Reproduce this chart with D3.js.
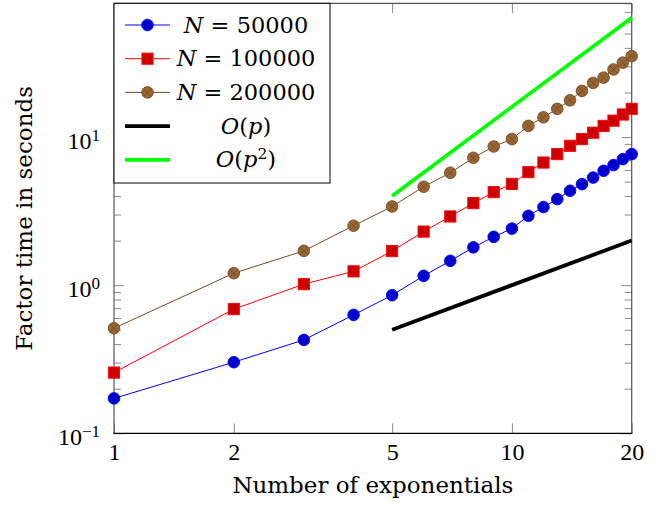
<!DOCTYPE html>
<html>
<head>
<meta charset="utf-8">
<script src="https://cdn.jsdelivr.net/npm/d3@7"></script>
<style>
  html, body { margin: 0; padding: 0; background: #fff; }
  svg { display: block; }
  text { font-family: "DejaVu Serif", "Liberation Serif", serif; fill: #000; }
  .num { font-family: "Liberation Serif", "DejaVu Serif", serif; }
</style>
</head>
<body>
<svg id="chart" width="661" height="508"></svg>
<script>
// ---- data ----
const exponentials = [1,2,3,4,5,6,7,8,9,10,11,12,13,14,15,16,17,18,19,20];
const timesN50000  = [0.172,0.302,0.427,0.63,0.856,1.156,1.46,1.80,2.12,2.41,2.94,3.37,3.81,4.34,4.81,5.33,5.92,6.47,7.10,7.67];
const timesN100000 = [0.257,0.689,1.016,1.24,1.70,2.30,2.91,3.58,4.25,4.83,5.80,6.73,7.67,8.73,9.69,10.7,11.9,12.9,14.2,15.5];
const timesN200000 = [0.512,1.205,1.705,2.52,3.40,4.62,5.74,7.25,8.64,9.69,11.9,13.6,15.5,17.7,20.5,23.2,25.2,28.6,31.8,35.2];
const refLinearX = [5, 20];
const refLinearY = [0.5, 2];
const refQuadX = [5, 20];
const refQuadY = [4, 64];
const xTickValues = [1, 2, 5, 10, 20];
const xTickLabels = ["1", "2", "5", "10", "20"];
const yMajorTicks = [0.1, 1, 10];
const yTickExponents = ["\u22121", "0", "1"];
const legendLabels = ["50000", "100000", "200000"];

// ---- layout ----
const L = 114, R = 631.7, T = 3.3, B = 433.3;
const FS = "22.5px", FSS = "15.5px", FA = "23px";
const svg = d3.select("#chart");
const x = d3.scaleLog().domain([1, 20]).range([L, R]);
const y = d3.scaleLog().domain([0.1, 80]).range([B, T]);

const yMinorTicks = [];
[0.1, 1, 10].forEach(d => { for (let k = 2; k <= 9; k++) { const v = d * k; if (v <= 80) yMinorTicks.push(v); } });

const tickCol = "#8a8a8a";
const axesG = svg.append("g");

// bottom axis
const xb = axesG.append("g").attr("transform", `translate(0,${B})`)
  .call(d3.axisBottom(x).tickValues(xTickValues).tickSizeInner(-10).tickSizeOuter(0).tickPadding(10)
        .tickFormat((d, i) => xTickLabels[i]));
xb.select(".domain").remove();
xb.selectAll("line").attr("stroke", tickCol);
xb.selectAll("text").attr("class", "num").style("font-size", "24px").attr("font-family", null);

// top axis ticks
const xt = axesG.append("g").attr("transform", `translate(0,${T})`)
  .call(d3.axisTop(x).tickValues(xTickValues).tickSizeInner(-10).tickSizeOuter(0).tickFormat(""));
xt.select(".domain").remove();
xt.selectAll("line").attr("stroke", tickCol);

// left axis major
const yl = axesG.append("g").attr("transform", `translate(${L},0)`)
  .call(d3.axisLeft(y).tickValues(yMajorTicks).tickSizeInner(-10).tickSizeOuter(0).tickFormat(""));
yl.select(".domain").remove();
yl.selectAll("line").attr("stroke", tickCol);
yl.selectAll(".tick text").remove();
yl.selectAll(".tick").each(function(d, i) {
  const g = d3.select(this);
  const t = g.append("text").attr("class", "num").attr("x", 0).attr("y", 11)
    .attr("text-anchor", "start").style("font-size", "24px").attr("fill", "#000");
  t.append("tspan").text("10");
  t.append("tspan").attr("dy", -8).style("font-size", "17px").text(yTickExponents[i]);
  const w = t.node().getBBox().width;
  t.attr("x", -14 - w);
});
// left minor
const ylm = axesG.append("g").attr("transform", `translate(${L},0)`)
  .call(d3.axisLeft(y).tickValues(yMinorTicks).tickSizeInner(-7).tickSizeOuter(0).tickFormat(""));
ylm.select(".domain").remove();
ylm.selectAll("line").attr("stroke", tickCol);
// right major/minor
const yr = axesG.append("g").attr("transform", `translate(${R},0)`)
  .call(d3.axisRight(y).tickValues(yMajorTicks).tickSizeInner(-10).tickSizeOuter(0).tickFormat(""));
yr.select(".domain").remove();
yr.selectAll("line").attr("stroke", tickCol);
const yrm = axesG.append("g").attr("transform", `translate(${R},0)`)
  .call(d3.axisRight(y).tickValues(yMinorTicks).tickSizeInner(-7).tickSizeOuter(0).tickFormat(""));
yrm.select(".domain").remove();
yrm.selectAll("line").attr("stroke", tickCol);

// frame
axesG.append("line").attr("x1", L).attr("x2", L).attr("y1", T).attr("y2", B).attr("stroke", "#555").attr("stroke-width", 1.2);
axesG.append("line").attr("x1", R).attr("x2", R).attr("y1", T).attr("y2", B).attr("stroke", "#555").attr("stroke-width", 1.2);
axesG.append("line").attr("x1", L).attr("x2", R).attr("y1", T).attr("y2", T).attr("stroke", "#555").attr("stroke-width", 1.2);
axesG.append("line").attr("x1", L - 0.6).attr("x2", R + 0.6).attr("y1", B).attr("y2", B).attr("stroke", "#000").attr("stroke-width", 1.2);

// axis labels
svg.append("text").attr("x", (L + R) / 2).attr("y", 493).attr("text-anchor", "middle")
  .style("font-size", FA).text("Number of exponentials");
svg.append("text").attr("transform", `translate(32,${(T + B) / 2}) rotate(-90)`).attr("text-anchor", "middle")
  .style("font-size", FA).text("Factor time in seconds");

// ---- series ----
const series = [
  { vals: timesN50000,  line: "rgb(0,0,255)",   fill: "rgb(0,0,204)",   mark: "circle" },
  { vals: timesN100000, line: "rgb(255,0,0)",   fill: "rgb(204,0,0)",   mark: "square" },
  { vals: timesN200000, line: "rgb(115,77,38)", fill: "rgb(153,102,51)", mark: "otimes" }
];
const lineGen = d3.line().x(d => x(d[0])).y(d => y(d[1]));

function drawMark(g, type, cx, cy, s) {
  if (type === "circle") {
    g.append("circle").attr("cx", cx).attr("cy", cy).attr("r", 5.8).attr("fill", s.fill).attr("stroke", s.line).attr("stroke-width", 0.9);
  } else if (type === "square") {
    g.append("rect").attr("x", cx - 5.6).attr("y", cy - 5.6).attr("width", 11.2).attr("height", 11.2).attr("fill", s.fill).attr("stroke", s.line).attr("stroke-width", 0.9);
  } else {
    g.append("circle").attr("cx", cx).attr("cy", cy).attr("r", 5.8).attr("fill", s.fill).attr("stroke", s.line).attr("stroke-width", 0.9);
    const k = 5.8 * Math.SQRT1_2;
    g.append("path").attr("d", `M${cx - k},${cy - k}L${cx + k},${cy + k}M${cx - k},${cy + k}L${cx + k},${cy - k}`)
      .attr("stroke", s.line).attr("stroke-width", 0.9).attr("fill", "none");
  }
}

const plotG = svg.append("g");
series.forEach(s => {
  const pts = exponentials.map((e, i) => [e, s.vals[i]]);
  const g = plotG.append("g");
  g.append("path").datum(pts).attr("d", lineGen).attr("fill", "none").attr("stroke", s.line).attr("stroke-width", 1);
  pts.forEach(p => drawMark(g, s.mark, x(p[0]), y(p[1]), s));
});
plotG.append("path").datum(refLinearX.map((v, i) => [v, refLinearY[i]])).attr("d", lineGen)
  .attr("fill", "none").attr("stroke", "#000").attr("stroke-width", 3.8);
plotG.append("path").datum(refQuadX.map((v, i) => [v, refQuadY[i]])).attr("d", lineGen)
  .attr("fill", "none").attr("stroke", "rgb(0,255,0)").attr("stroke-width", 3.8);

// ---- legend ----
const lg = svg.append("g");
lg.append("rect").attr("x", L).attr("y", T).attr("width", 330 - L).attr("height", 183 - T)
  .attr("fill", "#fff").attr("stroke", "#000").attr("stroke-width", 1);
const rowY = i => 25 + i * 33.7;
series.forEach((s, i) => {
  const cy = rowY(i);
  lg.append("line").attr("x1", 125).attr("x2", 170).attr("y1", cy).attr("y2", cy).attr("stroke", s.line).attr("stroke-width", 1);
  drawMark(lg, s.mark, 147.5, cy, s);
  const t = lg.append("text").attr("x", 246).attr("y", cy + 7.5).attr("text-anchor", "middle").style("font-size", FS);
  t.append("tspan").style("font-style", "italic").text("N");
  t.append("tspan").text(" = " + legendLabels[i]);
});
[["#000", "p", null], ["rgb(0,255,0)", "p", "2"]].forEach((r, j) => {
  const cy = rowY(3 + j);
  lg.append("line").attr("x1", 125).attr("x2", 170).attr("y1", cy).attr("y2", cy).attr("stroke", r[0]).attr("stroke-width", 3.8);
  const t = lg.append("text").attr("x", 246).attr("y", cy + 7.5).attr("text-anchor", "middle").style("font-size", FS);
  t.append("tspan").style("font-style", "italic").text("O");
  t.append("tspan").text("(");
  t.append("tspan").style("font-style", "italic").text(r[1]);
  if (r[2]) {
    t.append("tspan").attr("dy", -8).style("font-size", FSS).text(r[2]);
    t.append("tspan").attr("dy", 8).text(")");
  } else {
    t.append("tspan").text(")");
  }
});
</script>
</body>
</html>
